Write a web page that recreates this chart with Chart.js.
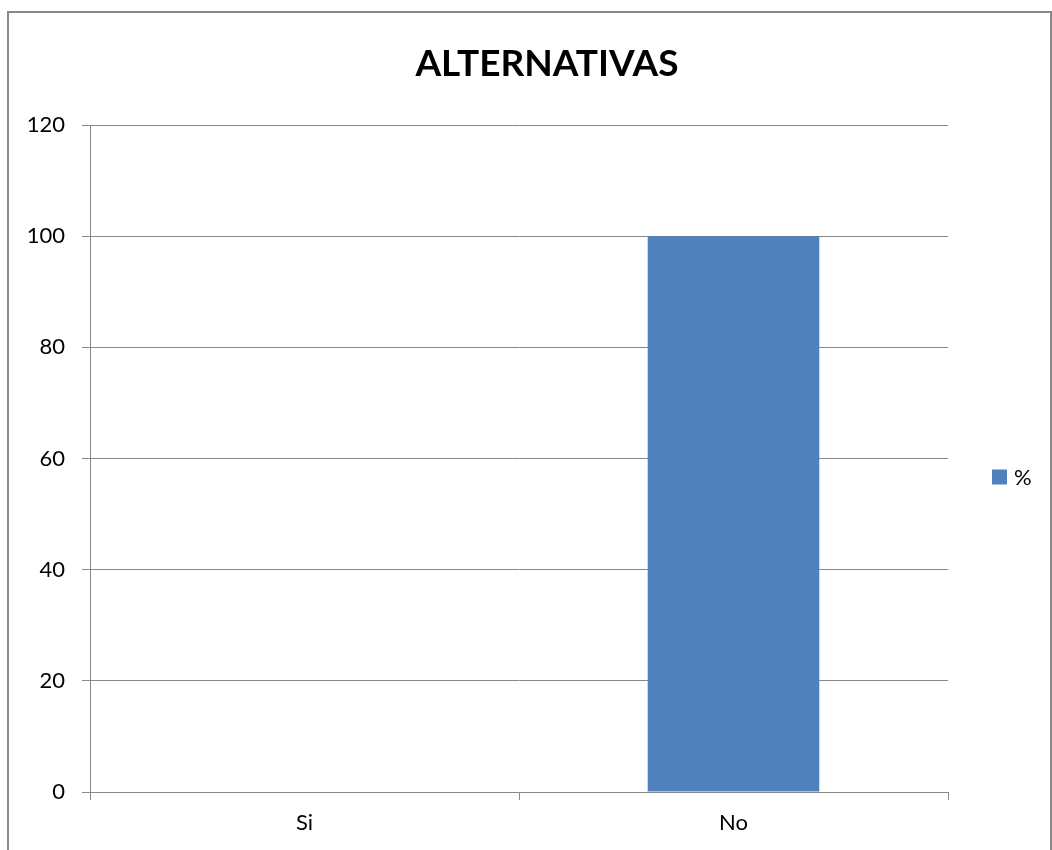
<!DOCTYPE html>
<html>
<head>
<meta charset="utf-8">
<script src="https://cdn.jsdelivr.net/npm/chart.js@4/dist/chart.umd.min.js"></script>
<style>
  html, body { margin: 0; padding: 0; background: #fff; overflow: hidden; }
  #wrap { position: relative; width: 1052px; height: 850px; }
  #frame {
    position: absolute; left: 7px; top: 11px; width: 1041px; height: 900px;
    border: 2px solid #8a8a8a; pointer-events: none;
  }
</style>
</head>
<body>
<div id="wrap">
  <canvas id="chart" width="1052" height="850"></canvas>
  <div id="frame"></div>
</div>
<script>
const chartTitle = 'ALTERNATIVAS';
const categories = ['Si', 'No'];
const percent = [0, 100];
const seriesName = '%';
const yTicks = [0, 20, 40, 60, 80, 100, 120];

const barBlue = '#4F81BD';
const gridGray = '#888888';
const fontFamily = 'Lato, "Open Sans", sans-serif';

// title centred on the whole frame, legend to the right of the plot
const decorations = {
  id: 'decorations',
  afterDraw(chart) {
    const ctx = chart.ctx;
    const ds = chart.data.datasets[0];
    const area = chart.chartArea;
    ctx.save();
    ctx.fillStyle = '#000';
    ctx.font = 'bold 37px ' + fontFamily;
    ctx.textAlign = 'center';
    ctx.textBaseline = 'middle';
    ctx.fillText(chartTitle, 547, 64);

    const cy = (area.top + area.bottom) / 2 + 18;
    ctx.fillStyle = ds.backgroundColor;
    ctx.fillRect(992, cy - 7, 15, 15);
    ctx.fillStyle = '#000';
    ctx.font = '22px ' + fontFamily;
    ctx.textAlign = 'left';
    ctx.fillText(ds.label, 1014, cy + 1);
    ctx.restore();
  }
};

new Chart(document.getElementById('chart').getContext('2d'), {
  type: 'bar',
  data: {
    labels: categories,
    datasets: [{
      label: seriesName,
      data: percent,
      backgroundColor: barBlue,
      categoryPercentage: 1,
      barPercentage: 0.4
    }]
  },
  options: {
    responsive: false,
    animation: false,
    layout: { padding: { left: 0, right: 104, top: 125, bottom: 0 } },
    plugins: {
      legend: { display: false },
      tooltip: { enabled: false },
      title: { display: false }
    },
    scales: {
      x: {
        offset: true,
        grid: {
          offset: true,
          drawOnChartArea: false,
          drawTicks: true,
          tickLength: 8,
          color: gridGray
        },
        border: { color: gridGray, width: 1 },
        ticks: {
          color: '#000',
          padding: 10,
          font: { family: fontFamily, size: 22 }
        },
        afterFit(scale) { scale.height = 58; }
      },
      y: {
        min: 0,
        max: 120,
        afterBuildTicks(scale) { scale.ticks = yTicks.map(v => ({ value: v })); },
        grid: {
          color: gridGray,
          tickLength: 8
        },
        border: { color: gridGray, width: 1 },
        ticks: {
          color: '#000',
          padding: 17,
          font: { family: fontFamily, size: 22 }
        },
        afterFit(scale) { scale.width = 90; }
      }
    }
  },
  plugins: [decorations]
});
</script>
</body>
</html>
